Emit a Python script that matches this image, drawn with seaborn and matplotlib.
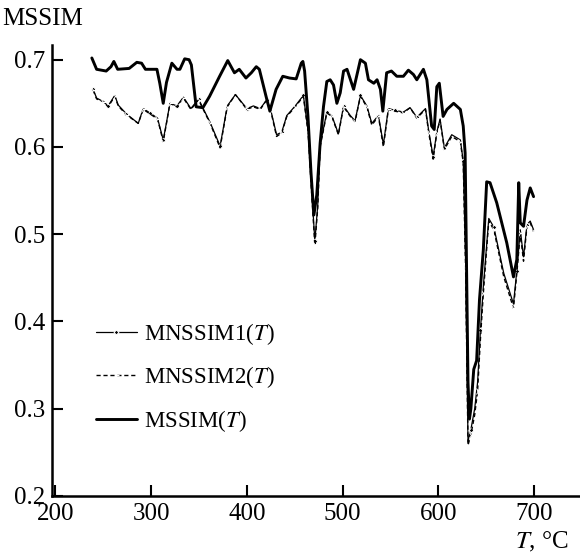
import matplotlib
matplotlib.use("Agg")
import matplotlib.pyplot as plt
import seaborn as sns

# Температура, °C и значения MSSIM
t_mssim = [238, 243, 253, 258, 261, 265, 277, 285, 290, 294,
           306, 309, 312.6, 316, 321.6, 327, 330, 335, 339.6, 342,
           347, 354, 361, 371.5, 380, 387, 392, 399, 404.6, 409.8,
           413, 420, 424, 430.5, 437.5, 444.5, 451.5, 456.8, 458.5, 460.3,
           463.8, 467, 470, 473, 476.5, 480, 483.5, 487, 490.5, 494,
           497.5, 501, 504.6, 511.5, 518.6, 523.8, 527, 532.6, 536, 539.5,
           542, 546, 551, 556.6, 563.5, 568.7, 574, 577.5, 584.4, 588,
           593, 595.7, 598.4, 601, 605, 609, 616, 623, 626, 628,
           629.5, 631, 632.5, 634, 637, 640, 643, 647, 650.5, 654,
           661, 671.5, 678.5, 682, 684, 685.6, 689, 692.6, 696, 699.5]
mssim = [0.702, 0.689, 0.687, 0.692, 0.698, 0.689, 0.690, 0.697, 0.696, 0.689,
         0.689, 0.673, 0.650, 0.674, 0.696, 0.689, 0.689, 0.701, 0.700, 0.694,
         0.646, 0.645, 0.658, 0.681, 0.699, 0.685, 0.689, 0.679, 0.685, 0.692,
         0.689, 0.658, 0.641, 0.666, 0.681, 0.679, 0.678, 0.696, 0.698, 0.687,
         0.635, 0.570, 0.522, 0.545, 0.604, 0.646, 0.675, 0.677, 0.671, 0.650,
         0.662, 0.687, 0.689, 0.666, 0.700, 0.696, 0.677, 0.673, 0.677, 0.666,
         0.641, 0.685, 0.687, 0.681, 0.681, 0.688, 0.683, 0.677, 0.689, 0.677,
         0.624, 0.620, 0.669, 0.673, 0.635, 0.643, 0.650, 0.643, 0.624, 0.593,
         0.460, 0.330, 0.288, 0.300, 0.345, 0.355, 0.425, 0.482, 0.560, 0.559,
         0.536, 0.490, 0.451, 0.471, 0.559, 0.513, 0.509, 0.539, 0.553, 0.543]

t_mn = [239.4, 243, 250, 255, 262, 265.6, 274, 286.5, 291.7, 298.6,
        306.6, 309, 312.6, 316, 319.6, 326.8, 333.7, 341.5, 349.5, 353,
        361.6, 372, 379.5, 388, 400, 406.8, 414, 420.7, 425, 431,
        436.4, 441.7, 450.5, 459, 464, 468, 471, 474, 476.5, 483.5,
        488.7, 495.6, 501, 508, 513, 518.6, 525.3, 530.5, 537.4, 542.6,
        547.8, 554.8, 563.5, 570.5, 577.5, 586.6, 590, 594.6, 598.4, 601.8,
        606.3, 614, 623, 626, 628.5, 631, 634, 638, 641, 644,
        647, 652.7, 658, 668.4, 678.5, 682, 685.6, 689, 692.6, 696,
        699.5]
mnssim1 = [0.666, 0.656, 0.652, 0.647, 0.659, 0.648, 0.638, 0.627, 0.644, 0.639,
           0.633, 0.623, 0.608, 0.628, 0.650, 0.647, 0.657, 0.644, 0.655, 0.647,
           0.628, 0.601, 0.647, 0.660, 0.644, 0.647, 0.644, 0.654, 0.642, 0.614,
           0.617, 0.636, 0.647, 0.659, 0.618, 0.545, 0.492, 0.533, 0.602, 0.640,
           0.636, 0.615, 0.647, 0.636, 0.630, 0.659, 0.647, 0.627, 0.636, 0.603,
           0.644, 0.642, 0.640, 0.645, 0.634, 0.644, 0.618, 0.589, 0.617, 0.632,
           0.599, 0.614, 0.608, 0.584, 0.470, 0.262, 0.276, 0.300, 0.330, 0.390,
           0.440, 0.518, 0.508, 0.455, 0.420, 0.458, 0.505, 0.474, 0.511, 0.515,
           0.505]
mnssim2 = [0.665, 0.655, 0.652, 0.646, 0.658, 0.647, 0.637, 0.627, 0.643, 0.638,
           0.632, 0.622, 0.606, 0.627, 0.650, 0.646, 0.656, 0.643, 0.654, 0.646,
           0.627, 0.599, 0.646, 0.660, 0.643, 0.646, 0.643, 0.654, 0.641, 0.612,
           0.616, 0.635, 0.646, 0.658, 0.616, 0.540, 0.487, 0.530, 0.600, 0.639,
           0.635, 0.614, 0.646, 0.635, 0.629, 0.658, 0.646, 0.625, 0.635, 0.600,
           0.643, 0.641, 0.639, 0.645, 0.633, 0.643, 0.616, 0.586, 0.616, 0.631,
           0.597, 0.612, 0.606, 0.582, 0.460, 0.258, 0.270, 0.293, 0.320, 0.380,
           0.432, 0.515, 0.505, 0.451, 0.415, 0.455, 0.501, 0.469, 0.509, 0.513,
           0.503]

sns.set_style("ticks")
plt.rcParams['font.family'] = ['Liberation Serif', 'DejaVu Serif']
plt.rcParams['mathtext.fontset'] = 'stix'
plt.rcParams['text.color'] = 'black'
plt.rcParams['axes.edgecolor'] = 'black'
plt.rcParams['xtick.color'] = 'black'
plt.rcParams['ytick.color'] = 'black'

fig = plt.figure(figsize=(5.8, 5.54), dpi=100)
ax = fig.add_axes([0.09, 0.105, 0.91, 0.814])

sns.lineplot(x=t_mn, y=mnssim1, ax=ax, color='black', linewidth=0.9,
             marker='D', markersize=2.5, markevery=3, estimator=None,
             label='MNSSIM1($T$)')
sns.lineplot(x=t_mn, y=mnssim2, ax=ax, color='black', linewidth=1.0,
             linestyle=(0, (3, 2)), marker='4', markersize=5, markevery=2,
             estimator=None, label='MNSSIM2($T$)')
sns.lineplot(x=t_mssim, y=mssim, ax=ax, color='black', linewidth=2.1,
             estimator=None, label='MSSIM($T$)')

ax.set_xlim(196.6, 748)
ax.set_ylim(0.2, 0.717)
ax.set_xticks([200, 300, 400, 500, 600, 700])
ax.set_yticks([0.2, 0.3, 0.4, 0.5, 0.6, 0.7])
ax.set_yticklabels(['0.2', '0.3', '0.4', '0.5', '0.6', '0.7'])
ax.tick_params(direction='in', length=8, width=1.5, labelsize=18, pad=5)
for s in ['left', 'bottom']:
    ax.spines[s].set_linewidth(1.8)
sns.despine(ax=ax)
ax.set_xlabel('')
ax.set_ylabel('')

fig.text(0.003, 0.965, 'MSSIM', fontsize=18, va='center', ha='left')
fig.text(0.98, 0.022, '$T$, °C', fontsize=18, va='center', ha='right')

ax.legend(loc='upper left', bbox_to_anchor=(0.165, 0.42),
          bbox_transform=fig.transFigure, frameon=False, fontsize=16.5,
          handlelength=1.8, handletextpad=0.3, labelspacing=0.75,
          borderaxespad=0, borderpad=0)

plt.savefig('out.png', dpi=100)
